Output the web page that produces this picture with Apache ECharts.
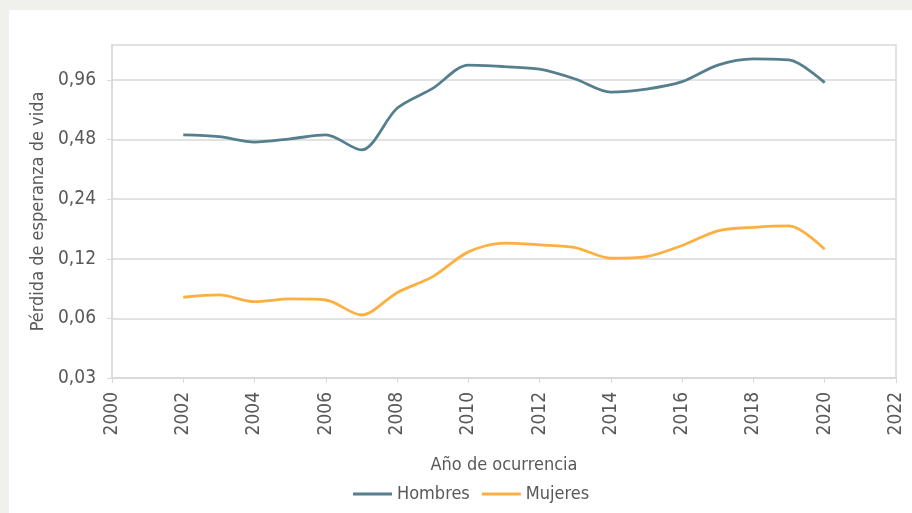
<!DOCTYPE html>
<html>
<head>
<meta charset="utf-8">
<script src="https://cdn.jsdelivr.net/npm/echarts@6/dist/echarts.min.js"></script>
<style>
html,body{margin:0;padding:0;background:#f0f0ec;}
#chart{width:912px;height:513px;}
</style>
</head>
<body>
<div id="chart"></div>
<script>
const years = [2002,2003,2004,2005,2006,2007,2008,2009,2010,2011,2012,2013,2014,2015,2016,2017,2018,2019,2020];
const hombres = [0.506,0.496,0.466,0.484,0.506,0.425,0.69,0.87,1.14,1.12,1.087,0.97,0.832,0.862,0.94,1.14,1.226,1.21,0.93];
const mujeres = [0.0767,0.0788,0.0729,0.0752,0.0743,0.0624,0.0809,0.0975,0.130,0.144,0.141,0.1366,0.1207,0.123,0.140,0.166,0.173,0.176,0.134];
const yTicks = [0.03,0.06,0.12,0.24,0.48,0.96];
const xTitle = 'Año de ocurrencia';
const yTitle = 'Pérdida de esperanza de vida';

const FONT = '"Liberation Sans Narrow", "DejaVu Sans Condensed", sans-serif';
const TXT = '#595959';
const GRIDC = '#d9d9d9';

const chart = echarts.init(document.getElementById('chart'));
chart.setOption({
  backgroundColor: '#f0f0ec',
  animation: false,
  textStyle: {fontFamily: FONT},
  graphic: [{type:'rect', z:-10, shape:{x:9,y:10,width:903,height:503}, style:{fill:'#ffffff'}}],
  grid: {left:112, top:45, right:16, bottom:135, show:true, borderColor:GRIDC, borderWidth:1.5, backgroundColor:'transparent'},
  legend: {
    top: 480, left: 348, itemWidth: 39, itemHeight: 3, itemGap: 12, icon: 'rect',
    textStyle: {fontFamily: FONT, fontSize: 18, color: TXT},
    data: ['Hombres','Mujeres']
  },
  xAxis: {
    type: 'value', min: 2000, max: 2022, interval: 2,
    name: xTitle, nameLocation: 'middle', nameGap: 78,
    nameTextStyle: {fontFamily: FONT, fontSize: 18, color: TXT},
    axisLine: {show:true, lineStyle:{color:GRIDC, width:1.5}},
    axisTick: {show:true, length:5, lineStyle:{color:GRIDC}},
    splitLine: {show:false},
    axisLabel: {rotate: 90, margin: 14, fontFamily: FONT, fontSize: 19, color: TXT, formatter: v => String(v)}
  },
  yAxis: {
    type: 'log', logBase: 2, min: 0.03, max: 1.44,
    name: yTitle, nameLocation: 'middle', nameGap: 56,
    nameTextStyle: {fontFamily: FONT, fontSize: 18, color: TXT},
    axisLine: {show:true, lineStyle:{color:GRIDC, width:1.5}},
    axisTick: {show:true, length:5, lineStyle:{color:GRIDC}, customValues: yTicks},
    splitLine: {show:true, lineStyle:{color:GRIDC, width:1.5}},
    axisLabel: {margin: 16, fontFamily: FONT, fontSize: 19, color: TXT, customValues: yTicks,
      formatter: v => v.toFixed(2).replace('.', ',')}
  },
  series: [
    {name:'Hombres', type:'line', smooth:0.3, symbol:'none', data: years.map((y,i)=>[y,hombres[i]]),
     lineStyle:{color:'#557f8d', width:2.8}, itemStyle:{color:'#557f8d'}},
    {name:'Mujeres', type:'line', smooth:0.3, symbol:'none', data: years.map((y,i)=>[y,mujeres[i]]),
     lineStyle:{color:'#fdb042', width:2.8}, itemStyle:{color:'#fdb042'}}
  ]
});
</script>
</body>
</html>
